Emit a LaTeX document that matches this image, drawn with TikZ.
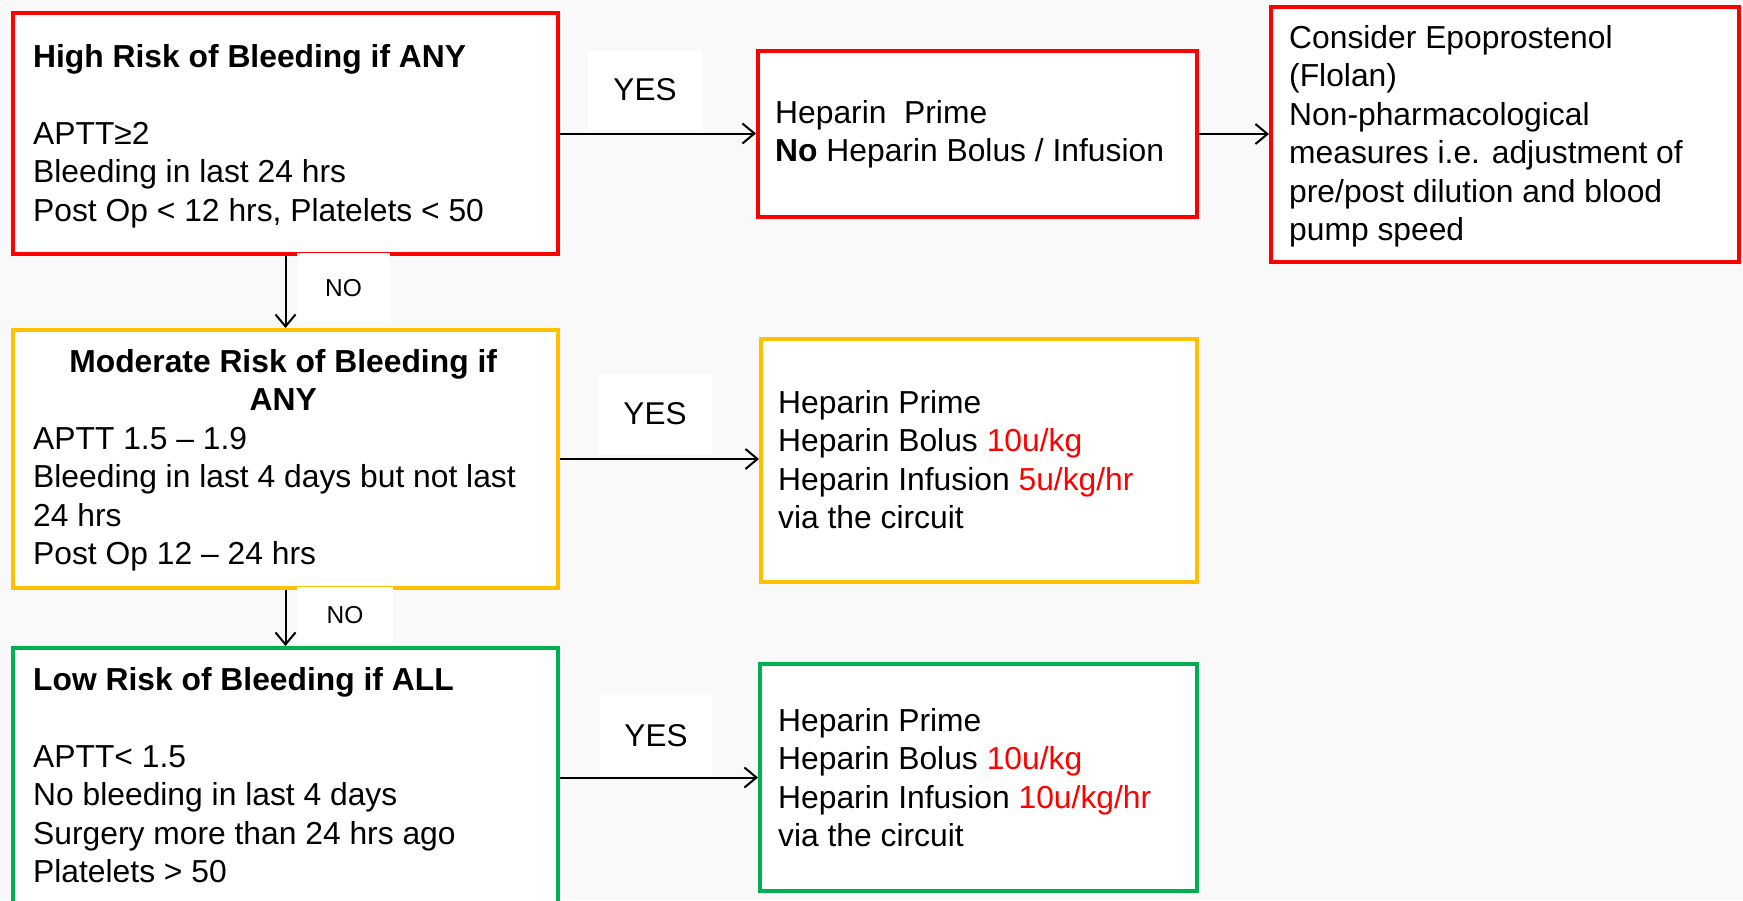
\documentclass[tikz,border=0pt]{standalone}
\usepackage{fontspec}
\setmainfont{Liberation Sans}
\usetikzlibrary{arrows.meta}
\definecolor{bxred}{RGB}{255,0,0}
\definecolor{bxorange}{RGB}{255,192,0}
\definecolor{bxgreen}{RGB}{0,176,80}
\definecolor{bgcol}{RGB}{249,249,249}
\newcommand{\bodyfont}{\fontsize{31.8}{38.5}\selectfont}
\begin{document}
\begin{tikzpicture}[x=1pt,y=-1pt,
  box/.style={draw, line width=4pt, fill=white, inner sep=0pt, anchor=north west},
  txt/.style={anchor=base west, inner sep=0pt, font=\bodyfont},
  arr/.style={line width=2pt, -{Straight Barb[length=12pt,width=20pt,line width=2pt]}},
  lbl/.style={fill=white, inner sep=0pt, font=\fontsize{31.5}{38}\selectfont},
  nolbl/.style={fill=white, inner sep=0pt, font=\fontsize{24.5}{30}\selectfont}]
\useasboundingbox (0,0) rectangle (1743,900);
\clip (0,0) rectangle (1743,900);
\fill[bgcol] (0,0) rectangle (1743,900);

% boxes
\node[box, draw=bxred, minimum width=545pt, minimum height=241pt] (b1) at (11,11) {};
\node[box, draw=bxred, minimum width=439pt, minimum height=166pt] (b2) at (756,49) {};
\node[box, draw=bxred, minimum width=468pt, minimum height=255pt] (b3) at (1269,5) {};
\node[box, draw=bxorange, minimum width=545pt, minimum height=258pt] (b4) at (11,328) {};
\node[box, draw=bxorange, minimum width=436pt, minimum height=243pt] (b5) at (759,337) {};
\node[box, draw=bxgreen, minimum width=545pt, minimum height=300pt] (b6) at (11,646) {};
\node[box, draw=bxgreen, minimum width=437pt, minimum height=227pt] (b7) at (758,662) {};

% texts
\node[txt] (t1) at (33,67) {\begin{tabular}[t]{@{}l@{}}\textbf{High Risk of Bleeding if ANY}\\ \\ APTT≥2\\ Bleeding in last 24 hrs\\ Post Op < 12 hrs, Platelets < 50\end{tabular}};
\node[txt] (t2) at (775,123) {\begin{tabular}[t]{@{}l@{}}Heparin\ \ Prime\\ \textbf{No} Heparin Bolus / Infusion\end{tabular}};
\node[txt] (t3) at (1289,48) {\begin{tabular}[t]{@{}l@{}}Consider Epoprostenol\\ (Flolan)\\ Non-pharmacological\\ measures i.e. adjustment of\\ pre/post dilution and blood\\ pump speed\end{tabular}};
\node[txt] (t4) at (33,372) {\begin{tabular}[t]{@{}p{500pt}@{}}\multicolumn{1}{@{}c@{}}{\textbf{Moderate Risk of Bleeding if}}\\ \multicolumn{1}{@{}c@{}}{\textbf{ANY}}\\ APTT 1.5 – 1.9\\ Bleeding in last 4 days but not last\\ 24 hrs\\ Post Op 12 – 24 hrs\end{tabular}};
\node[txt] (t5) at (778,413) {\begin{tabular}[t]{@{}l@{}}Heparin Prime\\ Heparin Bolus \textcolor{bxred}{10u/kg}\\ Heparin Infusion \textcolor{bxred}{5u/kg/hr}\\ via the circuit\end{tabular}};
\node[txt] (t6) at (33,690) {\begin{tabular}[t]{@{}l@{}}\textbf{Low Risk of Bleeding if ALL}\\ \\ APTT< 1.5\\ No bleeding in last 4 days\\ Surgery more than 24 hrs ago\\ Platelets > 50\end{tabular}};
\node[txt] (t7) at (778,731) {\begin{tabular}[t]{@{}l@{}}Heparin Prime\\ Heparin Bolus \textcolor{bxred}{10u/kg}\\ Heparin Infusion \textcolor{bxred}{10u/kg/hr}\\ via the circuit\end{tabular}};

% labels
\node[lbl, minimum width=114pt, minimum height=79pt] (y1) at (645,90) {YES};
\node[lbl, minimum width=114pt, minimum height=80pt] (y2) at (655,414) {YES};
\node[nolbl, minimum width=93pt, minimum height=70pt] (n1) at (343.5,288) {NO};
\node[nolbl, minimum width=96pt, minimum height=56pt] (n2) at (345,615) {NO};

% connectors
\draw[arr] (b1.east) -- (b1.east -| b2.west);
\draw[arr] (b2.east) -- (b2.east -| b3.west);
\draw[arr] (b1.south) -- (b4.north);
\draw[arr] (b4.east) -- (b4.east -| b5.west);
\draw[arr] (b4.south) -- (b6.north);
\draw[arr] (b7.west -| b6.east) -- (b7.west);
\node[lbl, minimum width=112pt, minimum height=81pt] (y3) at (656,735.5) {YES};
\end{tikzpicture}
\end{document}
